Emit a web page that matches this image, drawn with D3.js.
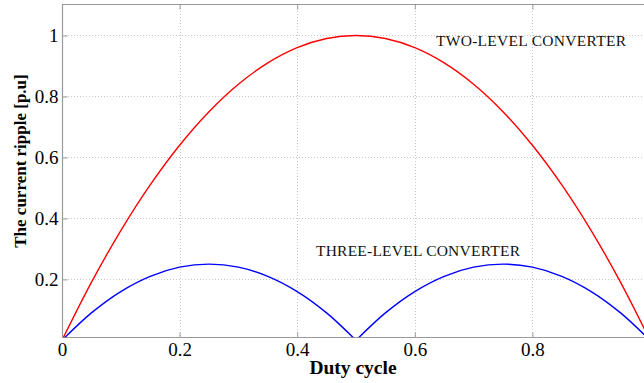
<!DOCTYPE html>
<html><head><meta charset="utf-8">
<script src="https://cdn.jsdelivr.net/npm/d3@7"></script>
<style>body{margin:0;background:#fff}svg{display:block}</style>
</head><body>
<script>
const dutyCycle = [0,0.05,0.1,0.15,0.2,0.25,0.3,0.35,0.4,0.45,0.5,0.55,0.6,0.65,0.7,0.75,0.8,0.85,0.9,0.95,1];
const twoLevel = [0,0.19,0.36,0.51,0.64,0.75,0.84,0.91,0.96,0.99,1.0,0.99,0.96,0.91,0.84,0.75,0.64,0.51,0.36,0.19,0];
const threeLevel = [0,0.09,0.16,0.21,0.24,0.25,0.24,0.21,0.16,0.09,0,0.09,0.16,0.21,0.24,0.25,0.24,0.21,0.16,0.09,0];
const xTicks = [0,0.2,0.4,0.6,0.8];
const yTicks = [0.2,0.4,0.6,0.8,1];
const xTickLabels = ["0","0.2","0.4","0.6","0.8"];
const yTickLabels = ["0.2","0.4","0.6","0.8","1"];

const W=644,H=383;
const svg=d3.select("body").append("svg").attr("width",W).attr("height",H);
const x=d3.scaleLinear().domain([0,1]).range([62,650]);
const y=d3.scaleLinear().domain([0.01,1.1]).range([337.3,5]);
const font="'Liberation Serif', 'Times New Roman', serif";

svg.append("defs").append("clipPath").attr("id","clip").append("rect")
  .attr("x",62).attr("y",5).attr("width",588).attr("height",332.3);

// grid
const grid=svg.append("g").attr("stroke","#c8c8c8").attr("stroke-width",1).attr("stroke-dasharray","1,2");
grid.selectAll(".gx").data(xTicks.slice(1)).join("line")
  .attr("x1",d=>Math.round(x(d))+0.5).attr("x2",d=>Math.round(x(d))+0.5).attr("y1",5).attr("y2",337);
grid.selectAll(".gy").data(yTicks).join("line")
  .attr("y1",d=>Math.round(y(d))+0.5).attr("y2",d=>Math.round(y(d))+0.5).attr("x1",62).attr("x2",650);

// axes
const axCol="#9a9a9a";
const xAxB=svg.append("g").attr("transform","translate(0,337.5)")
  .call(d3.axisBottom(x).tickValues(xTicks).tickSize(-5).tickFormat((d,i)=>xTickLabels[i]));
const xAxT=svg.append("g").attr("transform","translate(0,4.5)")
  .call(d3.axisTop(x).tickValues(xTicks).tickSize(-5).tickFormat(""));
const yAxL=svg.append("g").attr("transform","translate(62.5,0)")
  .call(d3.axisLeft(y).tickValues(yTicks).tickSize(-5).tickFormat((d,i)=>yTickLabels[i]));
[xAxB,xAxT,yAxL].forEach(g=>{
  g.attr("font-family",null).attr("font-size",null);
  g.select(".domain").attr("stroke",axCol).attr("stroke-width",1.2);
  g.selectAll(".tick line").attr("stroke",axCol);
  g.selectAll("text").style("font-family",font).style("font-size","19px").attr("fill","#000");
});
xAxB.select(".domain").attr("d","M62,0H650");
xAxT.select(".domain").attr("d","M62,0H650");
yAxL.select(".domain").attr("d","M0,5V337.3");
xAxB.selectAll("text").attr("y",5).attr("dy","0.71em");
yAxL.selectAll("text").attr("x",-4);

const pts=(arr,lo,hi)=>dutyCycle.map((d,i)=>[d,arr[i]]).filter(p=>p[0]>=lo&&p[0]<=hi);
const line=d3.line().x(p=>x(p[0])).y(p=>y(p[1])).curve(d3.curveCatmullRom.alpha(0.5));
const plot=svg.append("g").attr("clip-path","url(#clip)").attr("fill","none").attr("stroke-width",1.4);
plot.append("path").attr("d",line(pts(twoLevel,0,1))).attr("stroke","#ff0000");
plot.append("path").attr("d",line(pts(threeLevel,0,0.5))).attr("stroke","#0000ff");
plot.append("path").attr("d",line(pts(threeLevel,0.5,1))).attr("stroke","#0000ff");

// annotations
svg.append("text").attr("x",436).attr("y",45.5).style("font-family",font).style("font-size","15.5px")
  .attr("textLength",190).attr("fill","#111").text("TWO-LEVEL CONVERTER");
svg.append("text").attr("x",316).attr("y",255.7).style("font-family",font).style("font-size","15.5px")
  .attr("textLength",204).attr("fill","#111").text("THREE-LEVEL CONVERTER");

// axis labels
svg.append("text").attr("x",353).attr("y",373.5).attr("text-anchor","middle")
  .style("font-family",font).style("font-size","19.5px").style("font-weight","bold").text("Duty cycle");
svg.append("text").attr("transform","translate(26,161) rotate(-90)").attr("text-anchor","middle")
  .style("font-family",font).style("font-size","17px").style("font-weight","bold").text("The current ripple [p.u]");
</script>
</body></html>
